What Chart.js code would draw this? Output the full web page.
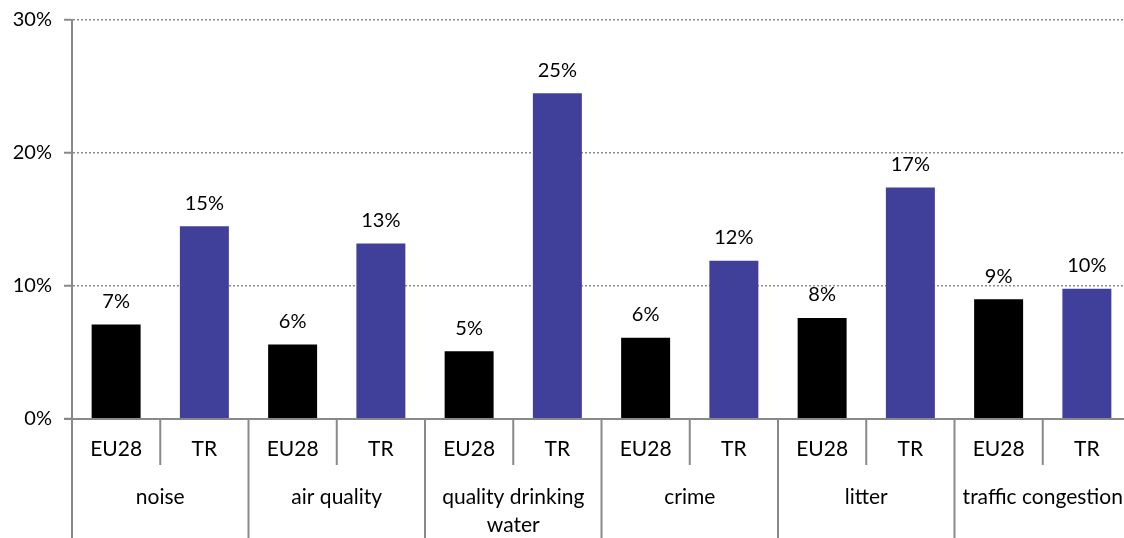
<!DOCTYPE html>
<html>
<head>
<meta charset="utf-8">
<script src="https://cdn.jsdelivr.net/npm/chart.js@4/dist/chart.umd.min.js"></script>
<style>
  html, body { margin: 0; padding: 0; background: #fff; overflow: hidden; }
  #wrap { width: 1131px; height: 538px; }
</style>
</head>
<body>
<div id="wrap"><canvas id="chart"></canvas></div>
<script>
const groups = [["noise"], ["air quality"], ["quality drinking", "water"], ["crime"], ["litter"], ["traffic congestion"]];
const seriesNames = ["EU28", "TR"];
const eu28 = [7.1, 5.6, 5.1, 6.1, 7.6, 9.0];
const tr = [14.5, 13.2, 24.5, 11.9, 17.4, 9.8];
const yTicks = [0, 10, 20, 30];
const colors = ["#000000", "#40409a"];

// one bar per slot: EU28, TR, EU28, TR ...
const labels = [], values = [], barColors = [];
groups.forEach((g, i) => {
    labels.push(seriesNames[0]); values.push(eu28[i]); barColors.push(colors[0]);
    labels.push(seriesNames[1]); values.push(tr[i]); barColors.push(colors[1]);
});

const FONT = "Lato, 'Open Sans', sans-serif";
const axisGray = "#898989";

const decorations = {
    id: "decorations",
    afterDraw(chart) {
        const { ctx, chartArea } = chart;
        const x = chart.scales.x, y = chart.scales.y;
        const y0 = y.getPixelForValue(0);
        const bottom = chart.height;
        ctx.save();
        ctx.strokeStyle = axisGray;
        ctx.lineWidth = 2;
        // base line
        ctx.beginPath();
        ctx.moveTo(chartArea.left - 8, y0);
        ctx.lineTo(chartArea.right, y0);
        ctx.stroke();
        // axis extension
        ctx.beginPath();
        ctx.moveTo(chartArea.left, y0);
        ctx.lineTo(chartArea.left, bottom);
        ctx.stroke();
        // separators
        for (let i = 1; i < labels.length; i++) {
            const bx = (x.getPixelForValue(i - 1) + x.getPixelForValue(i)) / 2;
            ctx.beginPath();
            ctx.moveTo(bx, y0);
            ctx.lineTo(bx, i % 2 === 0 ? bottom : y0 + 46);
            ctx.stroke();
        }
        ctx.fillStyle = "#000";
        ctx.font = "21px " + FONT;
        ctx.textAlign = "center";
        ctx.textBaseline = "middle";
        labels.forEach((l, i) => ctx.fillText(l, x.getPixelForValue(i), y0 + 30));
        groups.forEach((g, i) => {
            const cx = (x.getPixelForValue(2 * i) + x.getPixelForValue(2 * i + 1)) / 2;
            g.forEach((line, k) => ctx.fillText(line, cx, y0 + 78 + k * 28));
        });
        // value labels
        ctx.font = "20px " + FONT;
        const meta = chart.getDatasetMeta(0);
        meta.data.forEach((bar, i) => {
            ctx.fillText(Math.round(values[i]) + "%", bar.x, bar.y - 23);
        });
        ctx.restore();
    }
};

new Chart(document.getElementById("chart"), {
    type: "bar",
    data: {
        labels: labels,
        datasets: [{
            data: values,
            backgroundColor: barColors,
            categoryPercentage: 1,
            barPercentage: 0.555
        }]
    },
    options: {
        responsive: true,
        maintainAspectRatio: false,
        animation: false,
        layout: { padding: { top: 20, right: 0, bottom: 119, left: 0 } },
        plugins: { legend: { display: false }, tooltip: { enabled: false } },
        scales: {
            x: { display: false },
            y: {
                min: 0,
                max: 30,
                afterFit(scale) {
                    scale.width = 72;
                    scale.paddingTop = 0;
                    scale.paddingBottom = 0;
                },
                afterBuildTicks(scale) { scale.ticks = yTicks.map(v => ({ value: v })); },
                ticks: {
                    padding: 12,
                    color: "#000",
                    font: { family: FONT, size: 20 },
                    callback: v => v + "%"
                },
                border: { display: true, color: axisGray, width: 2, dash: [2, 2] },
                grid: {
                    color: c => (c.tick && c.tick.value === 0) ? "rgba(0,0,0,0)" : "#8c8c8c",
                    lineWidth: 1.5,
                    tickColor: axisGray,
                    tickLength: 8,
                    tickWidth: 2,
                    tickBorderDash: []
                }
            }
        }
    },
    plugins: [decorations]
});
</script>
</body>
</html>
